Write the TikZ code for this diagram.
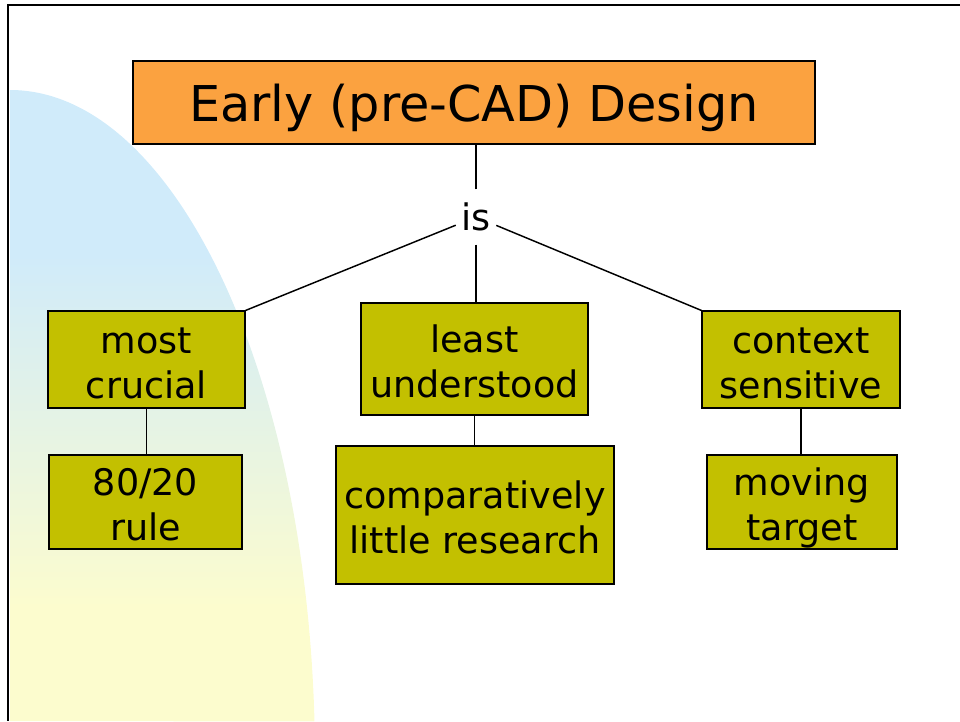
\documentclass[tikz,border=0pt]{standalone}
\usepackage{fontspec}
\setmainfont{DejaVu Sans}
\usetikzlibrary{positioning}

\definecolor{titleorange}{RGB}{251,162,64}
\definecolor{boxolive}{RGB}{195,192,0}
\definecolor{blobblue}{RGB}{208,235,250}
\definecolor{blobyellow}{RGB}{252,252,206}
\pgfdeclareverticalshading{blobshade}{100bp}{color(0bp)=(blobyellow); color(34bp)=(blobyellow); color(62bp)=(blobblue); color(100bp)=(blobblue)}

\begin{document}
\begin{tikzpicture}[x=0.75pt, y=-0.75pt,
	box/.style = {draw, line width=0.8pt, fill=boxolive, align=center,
	inner sep=0pt, font=\fontsize{27.4}{33.75}\selectfont,
	text height=62pt, text depth=4.2pt},
	link/.style = {line width=1.1pt}]

	\useasboundingbox (0,0) rectangle (960,721);
	% background blob and slide frame
	\shade[shading=blobshade] (10,721) -- (10,90)
		arc[start angle=-90, end angle=-3.3, x radius=305, y radius=670] -- cycle;
	\draw[line width=1.6pt] (960,5) -- (8,5) -- (8,721);

	\node[draw, line width=0.8pt, fill=titleorange, minimum width=511.5pt,
		minimum height=62.25pt, inner sep=0pt, font=\fontsize{37}{44}\selectfont]
		(title) at (474,102.5) {\rule[-0.28em]{0pt}{1.33em}Early (pre-CAD) Design};
	\node[minimum width=30pt, minimum height=41pt, inner sep=0pt,
		font=\fontsize{27.4}{33}\selectfont] (is) at (476,217) {is};

	\node[box, minimum width=147.75pt, minimum height=72.75pt] (most) at (146.5,359.5) {most\\crucial};
	\node[box, minimum width=170.25pt, minimum height=84pt] (least) at (474.5,359) {least\\understood};
	\node[box, minimum width=148.5pt, minimum height=72.75pt] (context) at (801,359.5) {context\\sensitive};

	\node[box, minimum width=144.75pt, minimum height=70.5pt] (rule) at (145.5,502) {80/20\\rule};
	\node[box, minimum width=208.5pt, minimum height=103.5pt] (research) at (475,515) {comparatively\\little research};
	\node[box, minimum width=142.5pt, minimum height=70.5pt] (moving) at (802,502) {moving\\target};

	\draw[link] (is.north) -- (is.north |- title.south);
	\draw[link] (is) -- (most.north east);
	\draw[link] (is.south) -- (is.south |- least.north);
	\draw[link] (is) -- (context.north west);
	\draw[link] (most.south) -- (most.south |- rule.north);
	\draw[link] (least.south) -- (least.south |- research.north);
	\draw[link] (context.south) -- (context.south |- moving.north);
\end{tikzpicture}
\end{document}
